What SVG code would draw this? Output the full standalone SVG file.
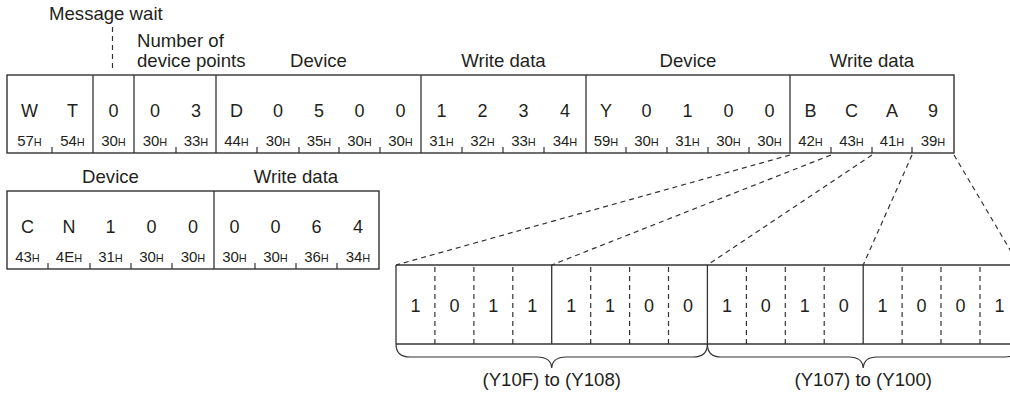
<svg xmlns="http://www.w3.org/2000/svg" width="1010" height="398" viewBox="0 0 1010 398">
<style>
text{font-family:"Liberation Sans",Arial,sans-serif;fill:#231f20}
.lbl{font-size:18.6px}
.ch{font-size:18px;text-anchor:middle}
.hx{font-size:15px;text-anchor:middle}
.hx tspan{font-size:11px}
.bit{font-size:18px;text-anchor:middle}
.frame{fill:none;stroke:#333;stroke-width:1.4}
.div{stroke:#333;stroke-width:1.3}
.tick{stroke:#333;stroke-width:1.2}
.dash{stroke:#333;stroke-width:1.2;stroke-dasharray:5 4;fill:none}
.brace{fill:none;stroke:#333;stroke-width:1.2}
</style>
<rect width="1010" height="398" fill="#fff"/>

<g id="labels">
<text class="lbl" x="49" y="20">Message wait</text>
<text class="lbl" x="137" y="47">Number of</text>
<text class="lbl" x="137" y="67">device points</text>
<text class="lbl" x="318.5" y="67" text-anchor="middle">Device</text>
<text class="lbl" x="503.5" y="67" text-anchor="middle">Write data</text>
<text class="lbl" x="688" y="67" text-anchor="middle">Device</text>
<text class="lbl" x="872" y="67" text-anchor="middle">Write data</text>
<text class="lbl" x="110.5" y="183" text-anchor="middle">Device</text>
<text class="lbl" x="296" y="183" text-anchor="middle">Write data</text>
<line class="dash" x1="112.5" y1="27" x2="112.5" y2="72"/>
</g>

<g id="frame1">
<rect class="frame" x="7" y="75" width="947" height="78"/>
<g class="div">
<line x1="93" y1="75" x2="93" y2="153"/><line x1="134" y1="75" x2="134" y2="153"/>
<line x1="216" y1="75" x2="216" y2="153"/><line x1="421" y1="75" x2="421" y2="153"/>
<line x1="586" y1="75" x2="586" y2="153"/><line x1="790" y1="75" x2="790" y2="153"/>
</g>
<g class="tick">
<line x1="52" y1="147" x2="52" y2="153"/><line x1="176" y1="147" x2="176" y2="153"/>
<line x1="257" y1="147" x2="257" y2="153"/><line x1="299" y1="147" x2="299" y2="153"/>
<line x1="339" y1="147" x2="339" y2="153"/><line x1="380" y1="147" x2="380" y2="153"/>
<line x1="462" y1="147" x2="462" y2="153"/><line x1="503" y1="147" x2="503" y2="153"/>
<line x1="544" y1="147" x2="544" y2="153"/><line x1="626" y1="147" x2="626" y2="153"/>
<line x1="667" y1="147" x2="667" y2="153"/><line x1="708" y1="147" x2="708" y2="153"/>
<line x1="749" y1="147" x2="749" y2="153"/><line x1="831" y1="147" x2="831" y2="153"/>
<line x1="872" y1="147" x2="872" y2="153"/><line x1="912" y1="147" x2="912" y2="153"/>
</g>
<g class="ch">
<text x="29.5" y="117">W</text><text x="72.5" y="117">T</text><text x="113.5" y="117">0</text>
<text x="155" y="117">0</text><text x="196" y="117">3</text><text x="236.5" y="117">D</text>
<text x="278" y="117">0</text><text x="319" y="117">5</text><text x="359.5" y="117">0</text>
<text x="400.5" y="117">0</text><text x="441.5" y="117">1</text><text x="482.5" y="117">2</text>
<text x="523.5" y="117">3</text><text x="565" y="117">4</text><text x="606" y="117">Y</text>
<text x="646.5" y="117">0</text><text x="687.5" y="117">1</text><text x="728.5" y="117">0</text>
<text x="769.5" y="117">0</text><text x="810.5" y="117">B</text><text x="851.5" y="117">C</text>
<text x="892" y="117">A</text><text x="933" y="117">9</text>
</g>
<g class="hx">
<text x="29.5" y="146">57<tspan>H</tspan></text><text x="72.5" y="146">54<tspan>H</tspan></text>
<text x="113.5" y="146">30<tspan>H</tspan></text><text x="155" y="146">30<tspan>H</tspan></text>
<text x="196" y="146">33<tspan>H</tspan></text><text x="236.5" y="146">44<tspan>H</tspan></text>
<text x="278" y="146">30<tspan>H</tspan></text><text x="319" y="146">35<tspan>H</tspan></text>
<text x="359.5" y="146">30<tspan>H</tspan></text><text x="400.5" y="146">30<tspan>H</tspan></text>
<text x="441.5" y="146">31<tspan>H</tspan></text><text x="482.5" y="146">32<tspan>H</tspan></text>
<text x="523.5" y="146">33<tspan>H</tspan></text><text x="565" y="146">34<tspan>H</tspan></text>
<text x="606" y="146">59<tspan>H</tspan></text><text x="646.5" y="146">30<tspan>H</tspan></text>
<text x="687.5" y="146">31<tspan>H</tspan></text><text x="728.5" y="146">30<tspan>H</tspan></text>
<text x="769.5" y="146">30<tspan>H</tspan></text><text x="810.5" y="146">42<tspan>H</tspan></text>
<text x="851.5" y="146">43<tspan>H</tspan></text><text x="892" y="146">41<tspan>H</tspan></text>
<text x="933" y="146">39<tspan>H</tspan></text>
</g>
</g>

<g id="frame2">
<rect class="frame" x="7" y="191" width="372" height="78"/>
<line class="div" x1="214" y1="191" x2="214" y2="269"/>
<g class="tick">
<line x1="48" y1="263" x2="48" y2="269"/><line x1="90" y1="263" x2="90" y2="269"/>
<line x1="131" y1="263" x2="131" y2="269"/><line x1="172" y1="263" x2="172" y2="269"/>
<line x1="255" y1="263" x2="255" y2="269"/><line x1="296" y1="263" x2="296" y2="269"/>
<line x1="337" y1="263" x2="337" y2="269"/>
</g>
<g class="ch">
<text x="27.5" y="233">C</text><text x="69" y="233">N</text><text x="110.5" y="233">1</text>
<text x="151.5" y="233">0</text><text x="193" y="233">0</text><text x="234.5" y="233">0</text>
<text x="275.5" y="233">0</text><text x="316.5" y="233">6</text><text x="358" y="233">4</text>
</g>
<g class="hx">
<text x="27.5" y="262">43<tspan>H</tspan></text><text x="69" y="262">4E<tspan>H</tspan></text>
<text x="110.5" y="262">31<tspan>H</tspan></text><text x="151.5" y="262">30<tspan>H</tspan></text>
<text x="193" y="262">30<tspan>H</tspan></text><text x="234.5" y="262">30<tspan>H</tspan></text>
<text x="275.5" y="262">30<tspan>H</tspan></text><text x="316.5" y="262">36<tspan>H</tspan></text>
<text x="358" y="262">34<tspan>H</tspan></text>
</g>
</g>

<g id="bits">
<line class="frame" x1="396" y1="265" x2="1020" y2="265"/>
<line class="frame" x1="396" y1="344" x2="1020" y2="344"/>
<g class="div">
<line x1="396" y1="265" x2="396" y2="344"/><line x1="551.7" y1="265" x2="551.7" y2="344"/>
<line x1="707.4" y1="265" x2="707.4" y2="344"/><line x1="863.2" y1="265" x2="863.2" y2="344"/>
</g>
<g class="dash">
<line x1="434.9" y1="267" x2="434.9" y2="344"/><line x1="473.9" y1="267" x2="473.9" y2="344"/>
<line x1="512.8" y1="267" x2="512.8" y2="344"/><line x1="590.7" y1="267" x2="590.7" y2="344"/>
<line x1="629.6" y1="267" x2="629.6" y2="344"/><line x1="668.5" y1="267" x2="668.5" y2="344"/>
<line x1="746.4" y1="267" x2="746.4" y2="344"/><line x1="785.3" y1="267" x2="785.3" y2="344"/>
<line x1="824.2" y1="267" x2="824.2" y2="344"/><line x1="902.1" y1="267" x2="902.1" y2="344"/>
<line x1="941" y1="267" x2="941" y2="344"/><line x1="980" y1="267" x2="980" y2="344"/>
</g>
<g class="bit">
<text x="415.5" y="312">1</text><text x="454.4" y="312">0</text><text x="493.3" y="312">1</text><text x="532.3" y="312">1</text>
<text x="571.2" y="312">1</text><text x="610.1" y="312">1</text><text x="649" y="312">0</text><text x="688" y="312">0</text>
<text x="726.9" y="312">1</text><text x="765.8" y="312">0</text><text x="804.8" y="312">1</text><text x="843.7" y="312">0</text>
<text x="882.6" y="312">1</text><text x="921.5" y="312">0</text><text x="960.5" y="312">0</text><text x="999.4" y="312">1</text>
</g>
<path class="brace" d="M396 344 Q396 357 410 357 L537 357 Q551 357 551.7 368 Q552.4 357 566 357 L693 357 Q707.4 357 707.4 344"/>
<path class="brace" d="M707.4 344 Q707.4 357 721 357 L849 357 Q862.5 357 863.2 368 Q864 357 877 357 L1005 357 Q1019 357 1019 344"/>
<text class="lbl" x="551.7" y="386" text-anchor="middle">(Y10F) to (Y108)</text>
<text class="lbl" x="863.2" y="386" text-anchor="middle">(Y107) to (Y100)</text>
</g>

<g id="connectors" class="dash">
<line x1="790" y1="155" x2="396" y2="265"/>
<line x1="831" y1="155" x2="551.7" y2="265"/>
<line x1="872" y1="155" x2="707.4" y2="265"/>
<line x1="912" y1="155" x2="863.2" y2="265"/>
<line x1="954" y1="155" x2="1019" y2="265"/>
</g>
</svg>
